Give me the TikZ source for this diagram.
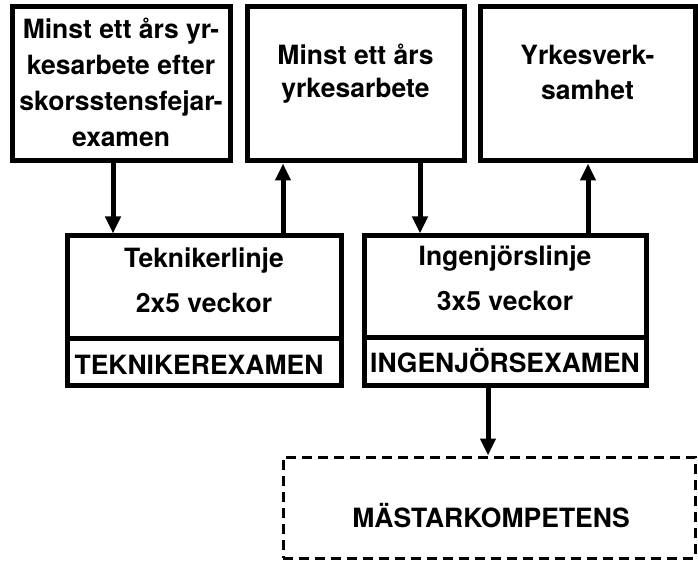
\documentclass[tikz,border=0pt]{standalone}
\usepackage{fontspec}
\setmainfont{TeX Gyre Heros}
\usetikzlibrary{arrows.meta,positioning}
\begin{document}
\begin{tikzpicture}[x=1pt, y=-1pt,
  box/.style={draw, line width=5pt, inner sep=0pt},
  dashbox/.style={draw, line width=3pt, dash pattern=on 10pt off 6pt, inner sep=0pt},
  txt/.style={font=\fontsize{26.5}{36}\selectfont\bfseries, align=center, inner sep=0pt},
  arr/.style={-{Triangle[width=15pt,length=17pt]}, line width=5pt}]
\useasboundingbox (0,0) rectangle (698,561);
% upper row
\node [box, minimum width=218pt, minimum height=154pt] (B1) at (121,84) {};
\node [box, minimum width=217pt, minimum height=154pt] (B2) at (355.5,84) {};
\node [box, minimum width=215pt, minimum height=154pt] (B3) at (587.5,84) {};
\node [txt, anchor=base] (t1) at (121,147) {Minst ett års yr-\\kesarbete efter\\skorsstensfejar-\\examen};
\node [txt, anchor=base, font=\fontsize{26.5}{33}\selectfont\bfseries] (t2) at (355.5,98) {Minst ett års\\yrkesarbete};
\node [txt, anchor=base, font=\fontsize{26.5}{35}\selectfont\bfseries] (t3) at (587.5,100) {Yrkesverk-\\samhet};
% courses
\node [box, minimum width=274pt, minimum height=102pt] (T) at (204,287) {};
\node [box, minimum width=274pt, minimum height=47pt] (TE) at (204,361.5) {};
\node [box, minimum width=282pt, minimum height=101pt] (I) at (505,286.5) {};
\node [box, minimum width=282pt, minimum height=48pt] (IE) at (505,361) {};
\node [txt, anchor=base, font=\fontsize{26.5}{45}\selectfont\bfseries] (tT) at (204,312) {Teknikerlinje\\2x5 veckor};
\node [txt, anchor=base, font=\fontsize{26.5}{45}\selectfont\bfseries] (tI) at (505,310) {Ingenjörslinje\\3x5 veckor};
\node [txt, anchor=base] (tTE) at (199,374) {TEKNIKEREXAMEN};
\node [txt, anchor=base] (tIE) at (505,372) {INGENJÖRSEXAMEN};
% result
\node [dashbox, minimum width=412pt, minimum height=101pt] (M) at (489,507.5) {};
\node [txt, anchor=base] (tM) at (491,527) {MÄSTARKOMPETENS};
% arrows
\draw [arr] ([xshift=-8pt]B1.south) -- ([xshift=-8pt]B1.south |- T.north);
\draw [arr] ([xshift=79pt]T.north) -- ([xshift=79pt]T.north |- B2.south);
\draw [arr] ([xshift=64.5pt]B2.south) -- ([xshift=64.5pt]B2.south |- I.north);
\draw [arr] ([xshift=83pt]I.north) -- ([xshift=83pt]I.north |- B3.south);
\draw [arr] ([xshift=-17pt]IE.south) -- ([xshift=-17pt]IE.south |- M.north);
\end{tikzpicture}
\end{document}
